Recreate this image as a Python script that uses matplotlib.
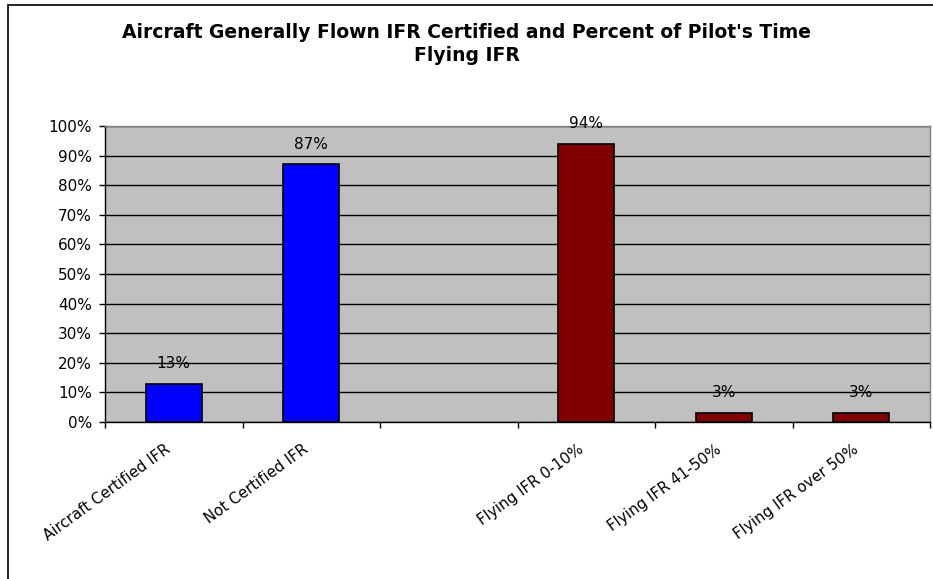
import numpy as np
import matplotlib.pyplot as plt
import matplotlib.transforms as mtransforms
from matplotlib.patches import Rectangle
from matplotlib.ticker import FixedLocator, PercentFormatter

plt.rcParams['font.family'] = ['DejaVu Sans']

# data
cert_labels = ['Aircraft Certified IFR', 'Not Certified IFR']
cert_values = [13, 87]
time_labels = ['Flying IFR 0-10%', 'Flying IFR 41-50%', 'Flying IFR over 50%']
time_values = [94, 3, 3]

labels = cert_labels + [''] + time_labels
n = len(labels)
x_cert = np.arange(len(cert_labels))
x_time = np.arange(len(time_labels)) + len(cert_labels) + 1

W, H = 933, 579
fig = plt.figure(figsize=(W / 100, H / 100), dpi=100)
ax = fig.add_axes([105 / W, 1 - 422 / H, 825 / W, 296 / H])
ax.set_facecolor('#C0C0C0')

barWidth = 0.41
ax.bar(x_cert, cert_values, width=barWidth, color='#0000FF', edgecolor='black', linewidth=1.2, zorder=3)
ax.bar(x_time, time_values, width=barWidth, color='#800000', edgecolor='black', linewidth=1.2, zorder=3)

# value labels
for xs, vals in [(x_cert, cert_values), (x_time, time_values)]:
    for x, v in zip(xs, vals):
        ax.annotate(f'{v}%', (x, v), xytext=(0, 11.5), textcoords='offset points',
                    ha='center', va='baseline', fontsize=11, color='black', zorder=4)

ax.set_xlim(-0.5, n - 0.5)
ax.set_ylim(0, 100)
ax.yaxis.set_major_locator(FixedLocator(np.arange(0, 101, 10)))
ax.yaxis.set_major_formatter(PercentFormatter(decimals=0))
ax.grid(axis='y', color='black', linewidth=1, zorder=1)
ax.set_axisbelow(True)

ax.set_xticks(np.arange(n))
ax.set_xticklabels(labels, rotation=36, ha='right', va='top', rotation_mode='anchor', fontsize=10.8)
ax.tick_params(axis='x', which='major', length=0, pad=14)
shift = mtransforms.ScaledTranslation(-9 / 100, 0, fig.dpi_scale_trans)
for lbl in ax.get_xticklabels():
    lbl.set_transform(lbl.get_transform() + shift)
ax.set_xticks(np.arange(n + 1) - 0.5, minor=True)
ax.tick_params(axis='x', which='minor', length=4, width=1, direction='out')
ax.tick_params(axis='y', length=4.3, width=1, direction='out', labelsize=11, pad=5)

for s in ['left', 'bottom']:
    ax.spines[s].set_color('black')
    ax.spines[s].set_linewidth(1)
for s in ['top', 'right']:
    ax.spines[s].set_color('#808080')
    ax.spines[s].set_linewidth(1)

fig.text(0.5, 1 - 38 / H, "Aircraft Generally Flown IFR Certified and Percent of Pilot's Time",
         ha='center', va='baseline', fontsize=13.5, fontweight='bold')
fig.text(0.5, 1 - 61 / H, "Flying IFR",
         ha='center', va='baseline', fontsize=13.5, fontweight='bold')

# outer chart border
fig.patches.append(Rectangle((8 / W, -0.05), 1.0, 1 - 5 / H + 0.05, transform=fig.transFigure,
                             fill=False, edgecolor='black', linewidth=1.2))

fig.savefig('out.png', dpi=100)
